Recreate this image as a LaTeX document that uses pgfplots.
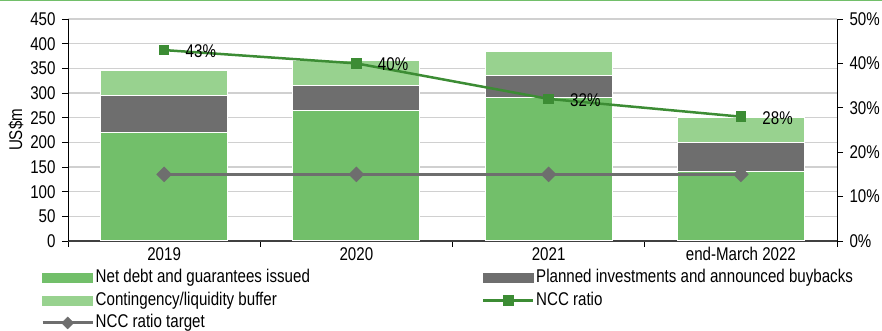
\documentclass[border=0pt]{standalone}
\usepackage{fontspec}
\setmainfont[FakeStretch=0.82]{Liberation Sans}
\usepackage{pgfplots}
\pgfplotsset{compat=1.18}
\definecolor{gA}{HTML}{72BF6A}
\definecolor{gB}{HTML}{6E6E6E}
\definecolor{gC}{HTML}{98D28F}
\definecolor{ln}{HTML}{3C8C34}
\definecolor{grd}{HTML}{D0D0D0}
\begin{document}
\begin{tikzpicture}[font=\fontsize{18.5}{22}\selectfont]
\begin{axis}[
 scale only axis, width=769bp, height=222bp,
 xmin=-0.5, xmax=3.5, ymin=0, ymax=450,
 axis x line*=bottom, axis y line*=left, axis line style={-},
 x axis line style={draw=black!75, line width=1.2bp},
 y axis line style={draw=black, line width=1bp},
 xtick={0,1,2,3}, xticklabels={2019,2020,2021,end-March 2022},
 xticklabel style={yshift=3bp},
 major x tick style={draw=none},
 minor xtick={-0.5,0.5,1.5,2.5,3.5},
 minor x tick style={draw=black, line width=0.8bp},
 minor tick length=6bp,
 ytick={0,50,...,450},
 yticklabel style={xshift=-3bp},
 major tick length=6bp,
 y tick style={draw=black, line width=0.8bp},
 tick align=outside,
 ymajorgrids, grid style={draw=grd, line width=1.2bp},
 ylabel={US\$m},
 ybar stacked, bar width=0.66,
 /pgf/number format/assume math mode=true,
 clip=false,
]
\addplot[fill=gA, draw=white, line width=1bp] coordinates {(0,220) (1,265) (2,290) (3,140)};
\addplot[fill=gB, draw=white, line width=1bp] coordinates {(0,75) (1,50) (2,45) (3,60)};
\addplot[fill=gC, draw=white, line width=1bp] coordinates {(0,50) (1,50) (2,50) (3,50)};
\coordinate (tl) at (rel axis cs:0,1);
\end{axis}
\begin{axis}[
 scale only axis, width=769bp, height=222bp,
 xmin=-0.5, xmax=3.5, ymin=0, ymax=50,
 axis y line*=right, axis x line=none, axis line style={-},
 y axis line style={draw=black, line width=1bp},
 xtick=\empty,
 ytick={0,10,...,50}, yticklabel={\pgfmathprintnumber{\tick}\%},
 yticklabel style={xshift=3bp},
 tick align=outside, major tick length=6bp,
 y tick style={draw=black, line width=0.8bp},
 /pgf/number format/assume math mode=true,
 legend columns=2,
 legend cell align=left,
 legend style={at={(rel axis cs:0,0)}, anchor=north west, xshift=-30bp, yshift=-24bp,
   draw=none, fill=none, row sep=1bp,
   nodes={inner sep=1.5bp, text height=14bp, text depth=4.5bp}},
 clip=false,
]
\addplot[gB, line width=3bp, mark=square*, mark size=4bp, mark options={rotate=45, solid}, forget plot] coordinates {(0,15) (1,15) (2,15) (3,15)};
\addplot[ln, line width=2.5bp, mark=square*, mark size=4bp, mark options={solid},
  point meta=y,
  nodes near coords={\pgfmathprintnumber[fixed,precision=0]{\pgfplotspointmeta}\%},
  every node near coord/.append style={anchor=west, xshift=17bp, yshift=-1bp, text=black, font=\fontsize{18.5}{22}\selectfont},
  forget plot] coordinates {(0,43) (1,40) (2,32) (3,28)};
\addlegendimage{legend image code/.code={\fill[gA] (0bp,-4.5bp) rectangle (50bp,4.5bp);}}
\addlegendentry{\makebox[385bp][l]{Net debt and guarantees issued}}
\addlegendimage{legend image code/.code={\fill[gB] (0bp,-4.5bp) rectangle (50bp,4.5bp);}}
\addlegendentry{Planned investments and announced buybacks}
\addlegendimage{legend image code/.code={\fill[gC] (0bp,-4.5bp) rectangle (50bp,4.5bp);}}
\addlegendentry{\makebox[385bp][l]{Contingency/liquidity buffer}}
\addlegendimage{legend image code/.code={\draw[ln,line width=2.5bp] (0bp,0bp)--(50bp,0bp); \fill[ln] (20bp,-5bp) rectangle (30bp,5bp);}}
\addlegendentry{NCC ratio}
\addlegendimage{legend image code/.code={\draw[gB,line width=3bp] (0bp,0bp)--(50bp,0bp); \fill[gB] (25bp,6bp)--(31bp,0bp)--(25bp,-6bp)--(19bp,0bp)--cycle;}}
\addlegendentry{NCC ratio target}
\end{axis}
\draw[gA, line width=1.5bp] ([xshift=-68bp,yshift=18.25bp]tl) -- ++(882bp,0);
\pgfresetboundingbox
\path ([xshift=-68bp,yshift=19bp]tl) rectangle ++(882bp,-331bp);
\end{tikzpicture}
\end{document}
